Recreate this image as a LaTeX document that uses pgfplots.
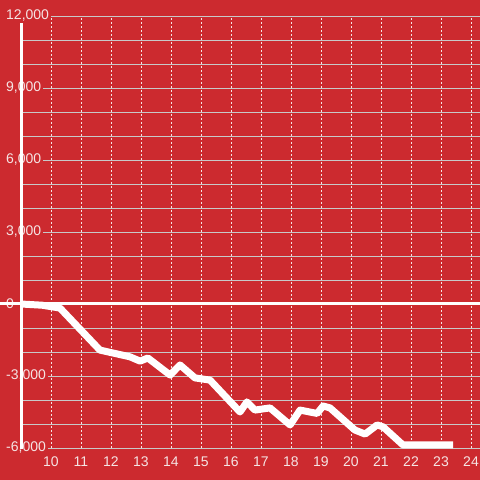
\documentclass[border=0pt]{standalone}
\usepackage{fontspec}
\setmainfont{Liberation Sans}
\usepackage{pgfplots}
\pgfplotsset{compat=1.18}
\definecolor{bgred}{RGB}{204,42,47}
\definecolor{gridgray}{RGB}{200,200,200}
\definecolor{labelc}{RGB}{245,228,228}
\begin{document}
\fontsize{14}{16}\selectfont
\begin{tikzpicture}
% background, 480 x 480
\fill[bgred] (-21pt,-32pt) rectangle (459pt,448pt);
\begin{axis}[
  at={(0,0)}, anchor=south west,
  scale only axis, width=459pt, height=432pt,
  xmin=9, xmax=24.3, ymin=-6000, ymax=12000,
  xtick={10,...,24},
  ytick={-6000,-3000,...,12000},
  minor ytick={-5000,-4000,-2000,-1000,1000,2000,4000,5000,7000,8000,10000,11000},
  scaled ticks=false,
  ymajorgrids, yminorgrids, xmajorgrids,
  major grid style={gridgray, line width=0.8pt},
  minor grid style={gridgray, line width=0.8pt},
  x grid style={labelc, line width=0.8pt, dash pattern=on 2pt off 2pt},
  y grid style={gridgray, line width=0.8pt},
  axis line style={draw=none},
  major tick length=0pt, minor tick length=0pt,
  tick label style={font=\fontsize{14}{16}\selectfont, text=labelc},
  /pgf/number format/assume math mode=true,
  /pgf/number format/1000 sep={,},
  yticklabel style={anchor=west, xshift=-17pt, fill=bgred, inner sep=2pt},
  xticklabel style={inner sep=1pt, yshift=-8pt},
  clip=false,
]
\addplot[white, line width=3pt, forget plot] coordinates {(8.3,0)(24.3,0)};
\draw[white, line width=3pt] (axis cs:9,-6050) -- (axis cs:9,11700);
\addplot[white, line width=7pt, line join=round] coordinates {
(9,0)(9.7,-50)(10.3,-170)(11.63,-1920)(12.63,-2200)(12.97,-2380)
(13.23,-2250)(13.97,-2960)(14.3,-2540)(14.8,-3080)(15.3,-3170)
(16.3,-4500)(16.53,-4080)(16.8,-4420)(17.3,-4330)(17.97,-5040)
(18.3,-4420)(18.87,-4560)(19.07,-4250)(19.3,-4330)(20.13,-5250)
(20.47,-5420)(20.87,-5040)(21.07,-5120)(21.73,-5870)(23.4,-5870)
};
\end{axis}
\pgfresetboundingbox
\useasboundingbox (-21pt,-32pt) rectangle (459pt,448pt);
\end{tikzpicture}
\end{document}
